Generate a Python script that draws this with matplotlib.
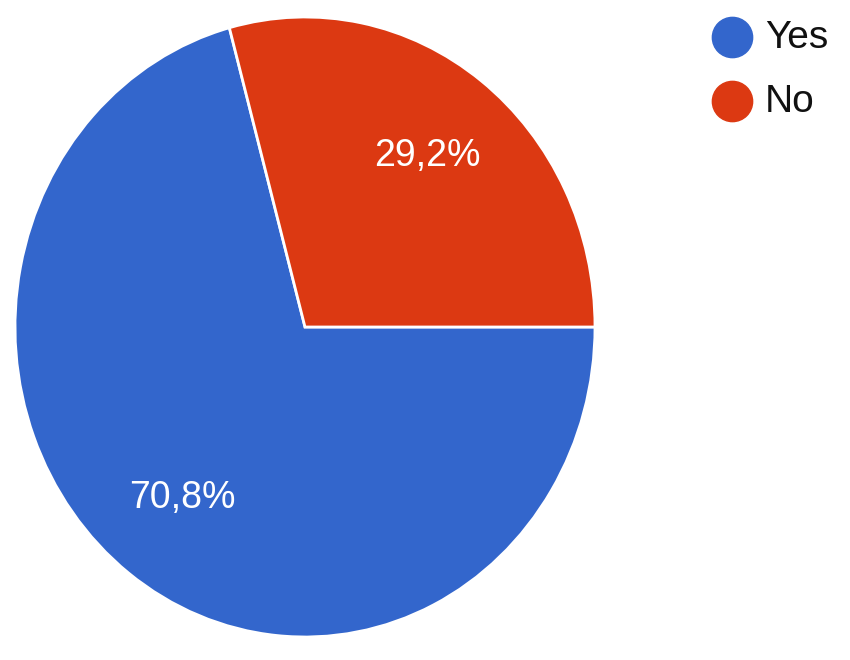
import matplotlib
matplotlib.use("Agg")
import matplotlib.pyplot as plt

plt.rcParams['font.family'] = ['Liberation Sans', 'DejaVu Sans']

labels = ["Yes", "No"]
shares = [70.8, 29.2]
colors = ["#3366CC", "#DC3912"]

fig = plt.figure(figsize=(8.5, 6.6), dpi=100)

# pie area: the reference pie is slightly taller than wide
ax = fig.add_axes([15 / 850, 23 / 660, 580 / 850, 620 / 660])
wedges, texts, autotexts = ax.pie(
    shares, colors=colors, radius=1,
    startangle=0.292 * 360, counterclock=True,
    autopct=lambda p: f"{p:.1f}%".replace(".", ","),
    pctdistance=0.695,
    wedgeprops=dict(edgecolor="white", linewidth=2),
    textprops=dict(color="white", fontsize=27),
)
ax.set_aspect("auto")
ax.set_xlim(-1, 1)
ax.set_ylim(-1, 1)
ax.axis("off")

# legend drawn in pixel coordinates
lax = fig.add_axes([0, 0, 1, 1])
lax.set_xlim(0, 850)
lax.set_ylim(660, 0)
lax.axis("off")
for i, (lab, c) in enumerate(zip(labels, colors)):
    y = 37 + i * 64
    lax.plot(732, y, marker="o", markersize=29, color=c, linestyle="none")
    lax.text(765, y + 1, lab, fontsize=28, va="center", ha="left", color="#111111")

fig.savefig("out.png", dpi=100)
